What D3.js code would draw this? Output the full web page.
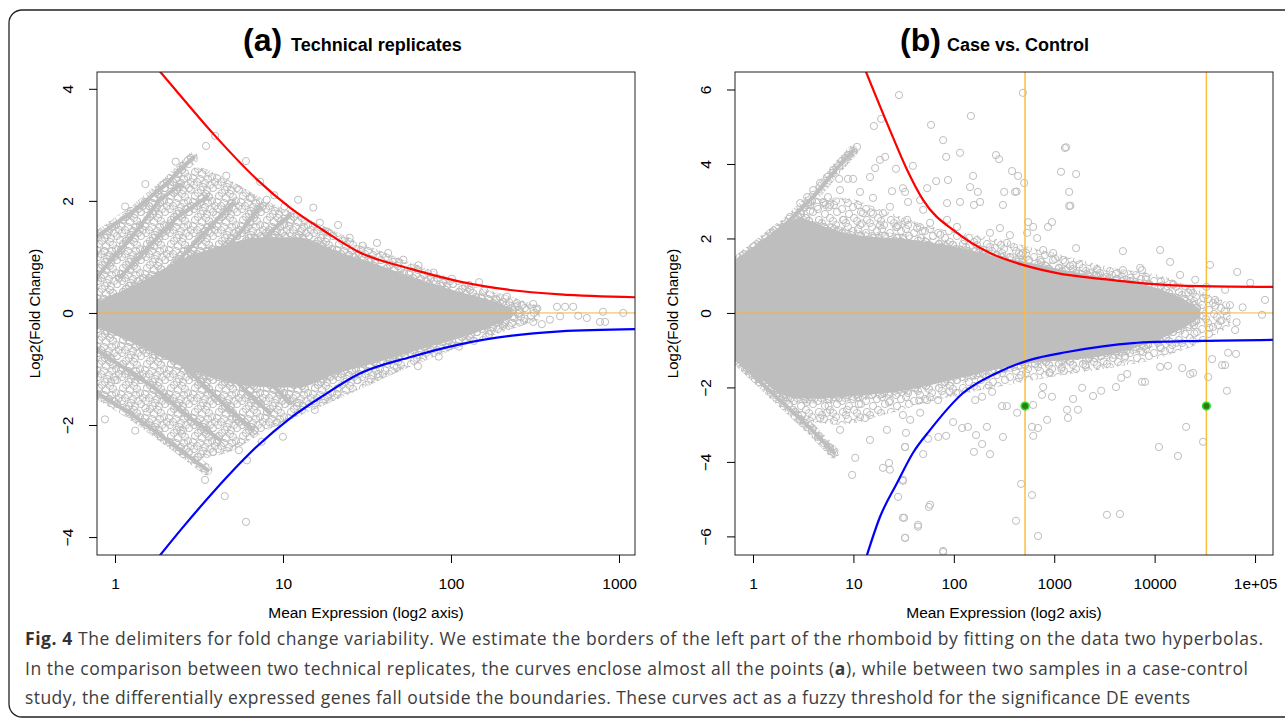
<!DOCTYPE html>
<html>
<head>
<meta charset="utf-8">
<script src="https://cdn.jsdelivr.net/npm/d3@7"></script>
<style>
  body { margin: 0; background: #fff; }
  svg { display: block; font-family: "Liberation Sans", Arial, sans-serif; }
</style>
</head>
<body>
<div id="fig"></div>
<script>
// x values are log2(mean expression), y values are log2(fold change)
var xTickValuesA = [1, 10, 100, 1000];
var xTickLabelsA = ["1", "10", "100", "1000"];
var xTickValuesB = [1, 10, 100, 1000, 10000, 100000];
var xTickLabelsB = ["1", "10", "100", "1000", "10000", "1e+05"];
var yTicksA = [-4, -2, 0, 2, 4];
var yTicksB = [-6, -4, -2, 0, 2, 4, 6];

// outer, loosely filled part of the cloud: [log2 mean, upper edge, lower edge]
var meshA = [
  [-0.36, 1.4, -1.45], [0.4, 1.85, -1.8], [1.0, 2.3, -2.25], [1.6, 2.6, -2.6], [2.2, 2.4, -2.5],
  [3.0, 2.0, -2.1], [4.0, 1.6, -1.7], [5.0, 1.2, -1.3], [6.0, 0.85, -0.9], [7.0, 0.5, -0.55],
  [7.8, 0.3, -0.3], [8.4, 0.12, -0.12]
];
var meshB = [
  [-0.6, 1.34, -1.2], [0.99, 2.36, -2.4], [1.8, 3.0, -2.9], [2.9, 3.1, -3.0], [4.5, 2.7, -2.7],
  [6.0, 2.3, -2.35], [8.0, 2.0, -2.0], [10.0, 1.6, -1.7], [12.0, 1.2, -1.45], [13.5, 1.0, -1.2],
  [14.8, 0.6, -0.8], [15.8, 0.25, -0.35]
];
// dense, solid part of the cloud
var coreA = [
  [-0.36, 0.2, -0.25], [0.5, 0.55, -0.6], [1.3, 0.95, -0.95], [2.1, 1.2, -1.2],
  [2.91, 1.35, -1.32], [3.6, 1.35, -1.33], [4.39, 1.1, -1.08], [5.2, 0.86, -0.88],
  [5.99, 0.6, -0.66], [6.8, 0.38, -0.45], [7.4, 0.23, -0.26], [7.85, 0.08, -0.08]
];
var coreB = [
  [-0.6, 1.34, -1.2], [0.23, 1.88, -1.75], [0.99, 2.36, -2.2], [1.56, 2.55, -2.3],
  [2.1, 2.4, -2.3], [2.8, 2.2, -2.27], [3.5, 2.08, -2.22], [4.87, 2.0, -2.1],
  [6.85, 1.75, -1.75], [7.84, 1.55, -1.55], [9.17, 1.35, -1.35], [10.49, 1.12, -1.26],
  [11.81, 0.92, -1.12], [13.14, 0.72, -0.8], [14.13, 0.42, -0.45], [14.8, 0.1, -0.12]
];

// low-count stripes (rows of overlapping genes)
var stripesA = [
  [[-0.36,1.36],[0.40,1.84],[1.03,2.32],[1.54,2.77]],
  [[-0.36,0.64],[0.44,1.48],[0.89,2.02],[1.29,2.29]],
  [[0.10,0.64],[1.23,1.71],[1.82,2.07]],
  [[0.89,0.59],[1.82,1.48],[2.33,1.96]],
  [[1.68,0.64],[2.47,1.43],[2.87,1.89]],
  [[2.33,0.77],[3.12,1.48],[3.46,1.75]],
  [[-0.36,-1.43],[0.30,-1.79],[1.03,-2.27],[1.82,-2.80]],
  [[-0.36,-0.66],[0.75,-1.32],[1.54,-1.91],[2.08,-2.27]],
  [[0.30,-0.13],[1.29,-0.89],[2.21,-1.68],[2.73,-2.09]],
  [[0.95,-0.13],[2.21,-1.07],[3.06,-1.79]],
  [[1.82,-0.25],[2.87,-1.07],[3.46,-1.61]]
];
var stripesB = [
  [[-0.6,1.34],[0.99,2.31],[2.0,3.12],[2.88,3.98],[3.3,4.35]],
  [[-0.6,-1.2],[0.89,-2.34],[1.95,-3.14],[2.68,-3.76]]
];

// single genes outside the dense part
var pointsA = [
  [1.98,3.16],[1.8,2.98],[2.59,2.71],[2.87,2.34],[2.2,2.45],[2.45,2.2],[2.7,2.05],[3.0,2.02],[3.15,2.1],[3.35,1.9],
  [3.46,1.62],[3.62,2.02],[3.92,1.88],[4.05,1.61],[4.41,1.57],[4.64,1.34],[3.7,1.5],[4.2,1.45],[4.9,1.2],[5.18,1.25],
  [5.4,1.07],[5.7,0.95],[6.0,0.85],[6.3,0.72],[6.66,0.61],[7.0,0.5],[7.3,0.4],[7.55,0.23],[7.75,0.29],[7.2,0.55],
  [1.2,2.7],[0.6,2.3],[0.2,1.9],[-0.2,1.1],[0.7,1.2],[1.5,2.2],[1.1,1.6],[2.0,1.75],[2.6,1.5],[0.1,1.3],
  [7.75,0.05],[7.87,-0.06],[8.0,0.0],[8.14,0.05],[8.27,0.16],[8.27,-0.16],[8.44,-0.2],[8.6,-0.12],[8.74,0.11],[8.8,-0.06],
  [8.9,0.11],[9.06,0.11],[9.16,-0.05],[9.33,-0.09],[9.59,-0.16],[9.65,0.02],[9.69,-0.16],[10.05,0.0],[7.61,-0.13],[7.95,0.12],
  [8.1,-0.1],[8.35,0.08],[7.7,-0.2],
  [5.99,-0.95],[5.57,-0.97],[5.2,-1.09],[5.4,-0.8],[4.8,-1.2],[4.4,-1.35],[6.4,-0.78],[6.8,-0.6],[7.1,-0.5],[7.4,-0.38],
  [3.95,-1.73],[3.6,-1.6],[4.2,-1.5],[1.64,-2.57],[1.94,-2.48],[1.78,-2.98],[2.17,-3.27],[2.59,-3.73],[2.61,-2.63],[3.32,-2.21],
  [2.45,-2.45],[1.3,-2.1],[0.6,-1.7],[0.0,-1.2],[2.9,-2.3],[3.2,-1.95],[2.4,-1.9],[1.0,-1.5],[-0.2,-1.9],[0.4,-2.1]
];
var pointsB = [
  [4.83,5.85],[4.24,5.21],[4.0,5.02],[5.89,5.05],[7.21,5.29],[8.93,5.91],[6.29,4.64],[6.39,4.19],[6.85,4.30],[8.04,4.24],
  [8.14,4.13],[10.32,4.43],[10.36,4.45],[10.19,3.79],[10.69,3.73],[10.46,3.25],[10.46,2.87],[10.5,2.88],[10.69,1.74],[8.57,3.81],
  [8.77,3.68],[8.97,3.49],[8.31,3.25],[8.67,3.25],[8.72,3.26],[7.28,3.68],[7.18,3.38],[7.44,3.25],[7.51,2.98],[7.31,2.90],
  [6.85,2.98],[6.45,3.57],[6.06,3.54],[6.42,2.95],[8.27,2.90],[9.1,2.44],[9.07,2.15],[9.27,2.31],[9.89,2.44],[9.76,2.31],
  [8.17,2.28],[9.4,2.01],[8.5,2.09],[12.24,1.66],[12.87,1.15],[12.24,1.15],
  [5.29,3.95],[4.73,3.87],[4.37,4.19],[4.2,4.11],[4.04,3.89],[3.87,3.65],[3.44,4.46],[3.31,4.35],[3.18,4.24],[3.14,3.60],
  [3.31,3.60],[2.85,3.60],[4.6,3.27],[4.96,3.35],[5.03,3.25],[5.13,2.98],[3.97,3.09],[4.53,2.85],[4.3,2.68],[3.64,2.68],
  [5.63,2.77],[5.53,3.03],[5.76,3.35],[2.88,3.30],[3.54,3.25],[2.48,3.11],[2.32,2.98],[2.55,2.90],[2.12,2.85],[1.89,2.74],
  [2.85,3.95],[2.65,3.84],[2.45,3.65],[2.22,3.49],[1.99,3.30],[1.79,3.11],[1.56,2.95],[1.22,2.58],
  [6.42,2.5],[6.75,2.31],[5.86,2.42],[5.43,2.28],[5.1,2.5],[4.77,2.31],[7.41,1.96],[7.84,2.15],[8.4,1.88],[7.61,1.69],
  [8.93,1.61],[9.6,1.69],[9.93,1.61],[10.26,1.42],[10.59,1.29],[11.15,1.07],[11.71,0.97],[9.5,1.42],
  [3.0,2.5],[3.6,2.4],[4.2,2.35],[4.8,2.35],[5.6,2.2],[6.2,2.1],[7.0,1.95],[8.0,1.75],[8.8,1.6],[2.4,2.9],[3.9,2.7],
  [13.47,1.69],[12.81,1.21],[13.8,1.37],[14.13,1.02],[14.63,0.89],[15.12,1.29],[15.62,0.62],[16.02,1.10],[16.45,0.81],[16.94,0.35],
  [15.29,0.35],[15.78,0.21],[16.84,-0.05],[14.5,0.6],[13.9,0.75],[15.0,0.7],
  [10.0,1.45],[10.8,1.3],[11.4,1.15],[12.0,1.05],[12.5,0.95],[13.0,0.9],[13.5,0.85],[14.0,0.7],[14.4,0.55],[14.9,0.4],
  [15.3,0.2],[15.6,0.05],[16.2,0.15],[16.0,-0.25],
  [10.2,-1.5],[11.0,-1.4],[11.6,-1.3],[12.3,-1.2],[12.9,-1.05],[13.5,-0.95],[14.0,-0.8],[14.6,-0.55],[15.1,-0.4],[15.5,-0.2],
  [9.8,-1.6],[8.8,-1.75],[7.8,-1.95],[6.5,-2.1],[5.5,-2.35],[4.5,-2.4],[3.5,-2.45],[2.5,-2.5],
  [9.27,-2.47],[9.73,-2.87],[9.23,-3.06],[9.43,-3.09],[9.27,-3.30],[8.27,-3.33],[7.74,-3.06],[7.58,-3.52],[7.31,-3.73],[7.84,-3.79],
  [7.38,-3.28],[7.11,-3.06],[6.92,-3.09],[6.62,-2.93],[6.39,-3.30],[6.13,-3.33],[5.79,-3.38],[5.63,-3.79],[5.03,-3.60],[4.96,-4.51],
  [8.87,-4.59],[9.23,-4.89],[5.82,-5.21],[5.0,-5.50],[5.46,-5.74],[5.03,-6.04],[8.7,-5.58],[9.43,-5.99],[6.29,-6.39],[11.71,-5.42],
  [12.14,-5.40],[13.43,-3.60],[14.06,-3.84],[14.33,-3.06],[14.89,-3.46],[15.68,-2.09],[15.95,-0.46],[15.98,-1.1],[15.72,-1.07],[15.62,-1.40],
  [15.52,-1.40],[15.19,-1.24],[15.06,-1.72],[14.56,-1.61],[14.46,-1.64],[14.2,-1.48],[13.73,-1.42],[13.47,-1.45],[12.97,-1.85],[12.87,-1.85],
  [12.38,-1.64],[12.18,-1.74],[12.01,-1.99],[11.52,-2.09],[11.25,-2.23],[10.89,-2.01],[10.59,-2.31],[10.75,-2.6],[10.42,-2.82],[10.39,-2.6],
  [9.89,-2.25],[9.6,-1.99],[9.56,-2.2],[8.74,-2.68],[8.4,-2.5],[8.24,-2.5],[7.91,-2.12],[7.58,-2.25],[7.35,-2.34],[6.78,-2.15],
  [6.12,-2.34],[5.76,-2.34],[5.53,-2.68],[5.2,-2.87],[5.06,-3.22],[4.96,-2.74],
  [1.32,-2.6],[1.56,-2.87],[1.95,-3.14],[2.15,-3.33],[2.55,-3.62],[2.68,-3.76],[3.38,-3.89],[3.28,-4.35],[2.45,-2.68],[3.11,-2.6],
  [2.88,-3.14],[3.71,-2.82],[3.87,-3.41],[4.43,-3.14],[4.3,-4.16],[4.53,-4.21],[4.5,-4.03],[5.03,-3.6],[1.79,-2.39],[2.22,-2.82],
  [1.62,-2.74],[1.0,-2.28],[0.56,-2.07],[1.46,-1.99],[4.96,-4.48],[4.8,-4.94],[4.96,-5.5],[5.46,-5.69],[5.03,-6.04],[5.86,-5.15],
  [6.29,-6.42]
];

// fitted hyperbolas
var upperA = [[0.85,4.35],[1.32,3.85],[1.98,3.16],[2.81,2.38],[3.46,1.88],[4.11,1.48],[4.84,1.08],[5.83,0.79],[6.82,0.56],[7.81,0.41],[8.8,0.33],[10.3,0.28]];
var lowerA = [[0.85,-4.37],[1.32,-3.85],[1.98,-3.16],[2.81,-2.38],[3.46,-1.88],[4.11,-1.48],[4.84,-1.08],[5.83,-0.79],[6.82,-0.56],[7.81,-0.41],[8.8,-0.33],[10.3,-0.29]];
var upperB = [[3.7,6.55],[4.53,4.91],[5.10,3.84],[5.63,3.03],[6.75,2.15],[7.84,1.61],[8.93,1.29],[10.06,1.07],[11.58,0.91],[13.14,0.78],[14.79,0.72],[17.25,0.70]];
var lowerB = [[3.74,-6.58],[4.20,-5.48],[4.77,-4.56],[5.29,-3.76],[5.86,-3.14],[6.95,-2.15],[8.07,-1.61],[9.17,-1.26],[10.39,-1.05],[12.57,-0.81],[14.79,-0.75],[17.25,-0.72]];

// panel b: marked expression levels (512 and 32768) and the two highlighted genes
var markersB = [9, 15];
var highlightB = [[9, -2.5], [15, -2.5]];

var svg = d3.select("#fig").append("svg")
    .attr("width", 1285)
    .attr("height", 718);

svg.append("rect").attr("width", 1285).attr("height", 718).attr("fill", "#fff");

// ring textures that stand in for thousands of overlapping open circles
var defs = svg.append("defs");
function ringPattern(id, rings) {
  var tile = 24;
  var p = defs.append("pattern")
      .attr("id", id)
      .attr("patternUnits", "userSpaceOnUse")
      .attr("width", tile).attr("height", tile);
  rings.forEach(function(c) {
    [-tile, 0, tile].forEach(function(dx) {
      [-tile, 0, tile].forEach(function(dy) {
        p.append("circle")
          .attr("cx", c[0] + dx).attr("cy", c[1] + dy)
          .attr("r", 3.6)
          .attr("fill", "none")
          .attr("stroke", "#bebebe")
          .attr("stroke-width", 1);
      });
    });
  });
}
ringPattern("ringsLoose", [[3,4],[14,2],[20,9],[8,11],[2,17],[13,15],[21,20],[9,22],[17,5],[6,7],[18,13]]);
ringPattern("ringsDense", [[3,4],[14,2],[20,9],[8,11],[2,17],[13,15],[21,20],[9,22],[17,5],
                           [10,6],[16,11],[5,14],[18,17],[11,19],[23,14],[6,1],[1,10],[15,22]]);

// rounded frame around the whole figure
svg.append("rect")
    .attr("x", 9).attr("y", 10)
    .attr("width", 1320).attr("height", 707)
    .attr("rx", 13)
    .attr("fill", "none")
    .attr("stroke", "#222")
    .attr("stroke-width", 1.3);

function drawPanel(o) {
  var x = d3.scaleLinear().domain(o.xDomain).range([o.left, o.right]);
  var y = d3.scaleLinear().domain(o.yDomain).range([o.bottom, o.top]);

  svg.append("clipPath").attr("id", "clip-" + o.id)
    .append("rect")
      .attr("x", o.left).attr("y", o.top)
      .attr("width", o.right - o.left).attr("height", o.bottom - o.top);

  var g = svg.append("g").attr("clip-path", "url(#clip-" + o.id + ")");

  var area = d3.area()
    .x(function(d) { return x(d[0]); })
    .y0(function(d) { return y(d[2]); })
    .y1(function(d) { return y(d[1]); })
    .curve(d3.curveMonotoneX);

  var line = d3.line()
    .x(function(d) { return x(d[0]); })
    .y(function(d) { return y(d[1]); });

  g.append("path")
    .datum(o.mesh)
    .attr("fill", "url(#" + o.meshFill + ")")
    .attr("d", area);

  var stripes = g.selectAll("g.stripe")
    .data(o.stripes)
    .enter().append("g")
      .attr("class", "stripe");
  stripes.append("path")
    .attr("fill", "none")
    .attr("stroke", "url(#ringsDense)")
    .attr("stroke-width", 11)
    .attr("stroke-linecap", "round")
    .attr("stroke-linejoin", "round")
    .attr("d", line);
  stripes.append("path")
    .attr("fill", "none")
    .attr("stroke", "#bebebe")
    .attr("stroke-width", 4)
    .attr("stroke-linecap", "round")
    .attr("d", line);

  g.append("path")
    .datum(o.core)
    .attr("fill", "#bebebe")
    .attr("stroke", "url(#ringsDense)")
    .attr("stroke-width", 10)
    .attr("stroke-linejoin", "round")
    .attr("d", area);

  g.selectAll("circle.pt")
    .data(o.points)
    .enter().append("circle")
      .attr("class", "pt")
      .attr("cx", function(d) { return x(d[0]); })
      .attr("cy", function(d) { return y(d[1]); })
      .attr("r", 3.6)
      .attr("fill", "none")
      .attr("stroke", "#bebebe")
      .attr("stroke-width", 1);

  g.append("line")
    .attr("x1", o.left).attr("x2", o.right)
    .attr("y1", y(0)).attr("y2", y(0))
    .attr("stroke", "#f2b445")
    .attr("stroke-width", 1);

  g.selectAll("line.marker")
    .data(o.markers || [])
    .enter().append("line")
      .attr("class", "marker")
      .attr("x1", function(d) { return x(d); })
      .attr("x2", function(d) { return x(d); })
      .attr("y1", o.top).attr("y2", o.bottom)
      .attr("stroke", "#fbbd3c")
      .attr("stroke-width", 1.5);

  var curve = d3.line()
    .x(function(d) { return x(d[0]); })
    .y(function(d) { return y(d[1]); })
    .curve(d3.curveMonotoneX);

  g.append("path").datum(o.upper)
    .attr("fill", "none").attr("stroke", "#ff0000").attr("stroke-width", 2.2)
    .attr("d", curve);
  g.append("path").datum(o.lower)
    .attr("fill", "none").attr("stroke", "#0000ff").attr("stroke-width", 2.2)
    .attr("d", curve);

  g.selectAll("circle.hl")
    .data(o.highlight || [])
    .enter().append("circle")
      .attr("class", "hl")
      .attr("cx", function(d) { return x(d[0]); })
      .attr("cy", function(d) { return y(d[1]); })
      .attr("r", 3.8)
      .attr("fill", "#2f7d12")
      .attr("stroke", "#2ddc2d")
      .attr("stroke-width", 1.6);

  svg.append("rect")
    .attr("x", o.left).attr("y", o.top)
    .attr("width", o.right - o.left).attr("height", o.bottom - o.top)
    .attr("fill", "none")
    .attr("stroke", "#222")
    .attr("stroke-width", 1);

  var xAxis = svg.append("g")
    .attr("transform", "translate(0," + o.bottom + ")")
    .call(d3.axisBottom(x)
      .tickValues(o.xTicks.map(function(d) { return Math.log2(d); }))
      .tickFormat(function(d, i) { return o.xLabels[i]; })
      .tickSize(8)
      .tickSizeOuter(0));
  xAxis.select(".domain").remove();
  xAxis.selectAll("text")
    .attr("y", 34).attr("dy", 0)
    .attr("fill", "#000")
    .style("font-size", "15.5px")
    .style("font-family", "'Liberation Sans', Arial, sans-serif");

  var yAxis = svg.append("g")
    .attr("transform", "translate(" + o.left + ",0)")
    .call(d3.axisLeft(y)
      .tickValues(o.yTicks)
      .tickFormat(function(d) { return d < 0 ? "\u2212" + Math.abs(d) : d; })
      .tickSize(8)
      .tickSizeOuter(0));
  yAxis.select(".domain").remove();
  yAxis.selectAll("text")
    .attr("x", null).attr("dy", 0)
    .attr("transform", "translate(-24,0) rotate(-90)")
    .attr("text-anchor", "middle")
    .attr("fill", "#000")
    .style("font-size", "15.5px")
    .style("font-family", "'Liberation Sans', Arial, sans-serif");

  svg.append("text")
    .attr("x", (o.left + o.right) / 2)
    .attr("y", 618)
    .attr("text-anchor", "middle")
    .style("font-size", "15.5px")
    .text("Mean Expression (log2 axis)");

  svg.append("text")
    .attr("transform", "translate(" + (o.left - 57) + "," + ((o.top + o.bottom) / 2) + ") rotate(-90)")
    .attr("text-anchor", "middle")
    .style("font-size", "15px")
    .text("Log2(Fold Change)");

  svg.append("text")
    .attr("x", o.titleX).attr("y", 51)
    .attr("font-weight", 700)
    .style("font-size", "32px")
    .text(o.tag);
  svg.append("text")
    .attr("x", o.subX).attr("y", 51)
    .attr("font-weight", 700)
    .style("font-size", "18px")
    .text(o.title);
}

drawPanel({
  id: "a", left: 97, right: 635, top: 72, bottom: 555,
  xDomain: [-0.356, 10.282], yDomain: [-4.32, 4.30],
  xTicks: xTickValuesA, xLabels: xTickLabelsA, yTicks: yTicksA,
  mesh: meshA, meshFill: "ringsDense", core: coreA, stripes: stripesA, points: pointsA,
  upper: upperA, lower: lowerA,
  tag: "(a)", title: "Technical replicates", titleX: 243, subX: 291
});

drawPanel({
  id: "b", left: 735, right: 1273, top: 72, bottom: 555,
  xDomain: [-0.596, 17.204], yDomain: [-6.50, 6.47],
  xTicks: xTickValuesB, xLabels: xTickLabelsB, yTicks: yTicksB,
  mesh: meshB, meshFill: "ringsLoose", core: coreB, stripes: stripesB, points: pointsB,
  upper: upperB, lower: lowerB, markers: markersB, highlight: highlightB,
  tag: "(b)", title: "Case vs. Control", titleX: 900, subX: 947
});

// caption
var cap = svg.append("g")
    .style("font-family", "'Open Sans', 'Noto Sans', sans-serif")
    .style("font-size", "17.5px")
    .attr("fill", "#3d3d3d");

var l1 = cap.append("text").attr("x", 25).attr("y", 645)
    .attr("textLength", 1238).attr("lengthAdjust", "spacing");
l1.append("tspan").attr("font-weight", 700).attr("fill", "#333").text("Fig. 4");
l1.append("tspan").text(" The delimiters for fold change variability. We estimate the borders of the left part of the rhomboid by fitting on the data two hyperbolas.");

var l2 = cap.append("text").attr("x", 25).attr("y", 675)
    .attr("textLength", 1223).attr("lengthAdjust", "spacing");
l2.append("tspan").text("In the comparison between two technical replicates, the curves enclose almost all the points (");
l2.append("tspan").attr("font-weight", 700).text("a");
l2.append("tspan").text("), while between two samples in a case-control");

cap.append("text").attr("x", 25).attr("y", 704)
    .attr("textLength", 1165).attr("lengthAdjust", "spacing")
    .text("study, the differentially expressed genes fall outside the boundaries. These curves act as a fuzzy threshold for the significance DE events");
</script>
</body>
</html>
